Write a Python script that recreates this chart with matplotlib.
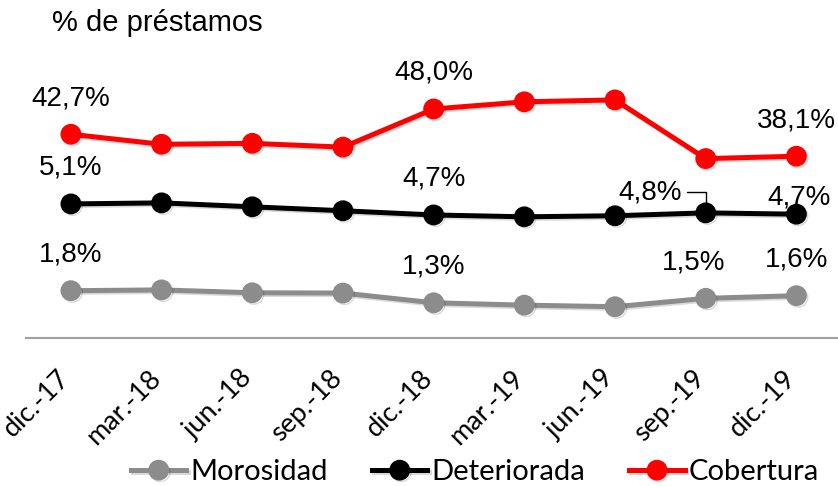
import matplotlib
matplotlib.use("Agg")
import matplotlib.pyplot as plt
import matplotlib.patheffects as pe
import matplotlib.transforms as mtransforms

# Datos
fechas = ['dic.-17', 'mar.-18', 'jun.-18', 'sep.-18', 'dic.-18',
          'mar.-19', 'jun.-19', 'sep.-19', 'dic.-19']
morosidad = [1.80, 1.83, 1.72, 1.71, 1.34, 1.25, 1.19, 1.51, 1.61]
deteriorada = [5.10, 5.14, 4.99, 4.84, 4.68, 4.61, 4.65, 4.76, 4.71]
cobertura = [42.7, 40.6, 40.8, 40.0, 48.0, 49.5, 49.9, 37.6, 38.1]

# indices con etiqueta de dato
idx_mor = [0, 4, 7, 8]
idx_det = [0, 4, 7, 8]
idx_cob = [0, 4, 8]

GRIS = '#8c8c8c'
ROJO = '#ff0000'
FUENTE = ['Liberation Sans', 'DejaVu Sans']
ESTRECHA = ['Lato', 'DejaVu Sans']


def fmt(v):
    return f"{v:.1f}%".replace('.', ',')


fig = plt.figure(figsize=(8.38, 4.86), dpi=100)
ax = fig.add_axes([0.0305, 0.3045, 0.974, 0.541])
ax2 = ax.twinx()

sombra = [pe.SimpleLineShadow(offset=(1.2, -1.2), alpha=0.15, shadow_color='black'), pe.Normal()]
x = list(range(len(fechas)))

l1, = ax.plot(x, morosidad, color=GRIS, lw=3.6, marker='o', ms=14, label='Morosidad',
              path_effects=sombra)
l2, = ax.plot(x, deteriorada, color='black', lw=3.6, marker='o', ms=14, label='Deteriorada',
              path_effects=sombra)
l3, = ax2.plot(x, cobertura, color=ROJO, lw=3.6, marker='o', ms=14, label='Cobertura',
               path_effects=sombra)

ax.set_xlim(-0.5, len(fechas) - 0.5)
ax.set_ylim(0, 10)
ax2.set_ylim(0, 55.1)

# etiquetas de datos
for i in idx_mor:
    dx = -9 if i == 7 else 0
    ax.annotate(fmt(morosidad[i]), (i, morosidad[i]), xytext=(dx, 26), textcoords='offset points',
                ha='center', va='center', fontsize=20, family=FUENTE)
for i in idx_det:
    if i == 7:
        ax.annotate(fmt(deteriorada[i]), (i, deteriorada[i]), xytext=(-40, 15),
                    textcoords='offset points', ha='center', va='center', fontsize=20, family=FUENTE,
                    arrowprops=dict(arrowstyle='-', color='black', lw=1,
                                    connectionstyle='angle,angleA=0,angleB=90,rad=0',
                                    shrinkA=2, shrinkB=7))
    elif i == 8:
        ax.annotate(fmt(deteriorada[i]), (i, deteriorada[i]), xytext=(2, 12), textcoords='offset points',
                    ha='center', va='center', fontsize=20, family=FUENTE)
    else:
        ax.annotate(fmt(deteriorada[i]), (i, deteriorada[i]), xytext=(0, 26), textcoords='offset points',
                    ha='center', va='center', fontsize=20, family=FUENTE)
for i in idx_cob:
    ax2.annotate(fmt(cobertura[i]), (i, cobertura[i]), xytext=(0, 26), textcoords='offset points',
                 ha='center', va='center', fontsize=20, family=FUENTE)

# ejes
for a in (ax, ax2):
    for s in ['top', 'left', 'right']:
        a.spines[s].set_visible(False)
    a.set_yticks([])
ax2.spines['bottom'].set_visible(False)
ax.spines['bottom'].set_color('#a0a0a0')
ax.spines['bottom'].set_linewidth(1.5)

ax.set_xticks(x)
ax.set_xticklabels(fechas, rotation=45, ha='right', va='top', fontsize=19.5, family=ESTRECHA)
ax.tick_params(axis='x', length=0, pad=20)
# desplazar un poco las etiquetas a la derecha
desp = mtransforms.ScaledTranslation(4 / 100, 0, fig.dpi_scale_trans)
for lab in ax.get_xticklabels():
    lab.set_transform(lab.get_transform() + desp)

fig.text(0.062, 0.952, '% de préstamos', fontsize=21, family=FUENTE, va='center', ha='left')

fig.legend(handles=[l1, l2, l3], loc='center', bbox_to_anchor=(0.567, 0.028), ncol=3,
           frameon=False, prop={'family': ESTRECHA, 'size': 21}, handlelength=1.9,
           handletextpad=0.15, columnspacing=1.5, borderaxespad=0)

fig.savefig('out.png', dpi=100)
